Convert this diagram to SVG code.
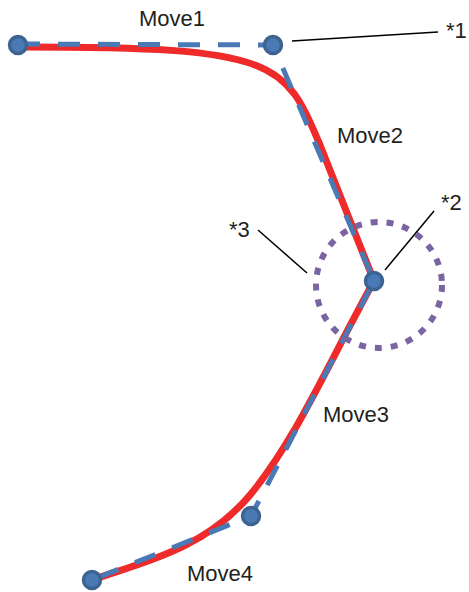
<svg xmlns="http://www.w3.org/2000/svg" width="469" height="592" viewBox="0 0 469 592">
<style>
.red{fill:none;stroke:#ee2a2a;stroke-width:7;stroke-linecap:round;stroke-linejoin:round}
.dash{fill:none;stroke:#4a7ab5;stroke-width:5;stroke-dasharray:22 18}
.node{fill:#4a7ab5;stroke:#3d6491;stroke-width:3.5}
.ring{fill:none;stroke:#7b64a2;stroke-width:6;stroke-dasharray:7 9}
.lead{fill:none;stroke:#000;stroke-width:1.5}
text{font-family:"Liberation Sans",Arial,sans-serif;font-size:22px;fill:#231f20}
</style>
<rect width="469" height="592" fill="#fff"/>
<g id="curve">
<path class="red" d="M20,47 C150,47 215,50 255,65 S305,110 320,145 L374,281"/>
<path class="red" d="M374,281 C330,360 296,440 250,495 S140,563 92,580"/>
</g>
<g id="connectors">
<path class="dash" d="M18,44 L273,45 L374,281 L251,516 L92,580"/>
<circle class="ring" cx="379" cy="285" r="63"/>
<line class="lead" x1="292" y1="41" x2="438" y2="32"/>
<line class="lead" x1="385" y1="270" x2="434" y2="211"/>
<line class="lead" x1="258" y1="230" x2="307" y2="273"/>
</g>
<g id="n1"><circle class="node" cx="18" cy="45" r="8.5"/></g>
<g id="n2"><circle class="node" cx="273" cy="45" r="8.5"/></g>
<g id="n3"><circle class="node" cx="374" cy="281" r="8.5"/></g>
<g id="n4"><circle class="node" cx="251" cy="516" r="8.5"/></g>
<g id="n5"><circle class="node" cx="92" cy="580" r="8.5"/></g>
<g id="labels">
<text x="139" y="26">Move1</text>
<text x="337" y="143">Move2</text>
<text x="323" y="422">Move3</text>
<text x="187" y="581">Move4</text>
<text x="446" y="38">*1</text>
<text x="441" y="210">*2</text>
<text x="229" y="237">*3</text>
</g>
</svg>
